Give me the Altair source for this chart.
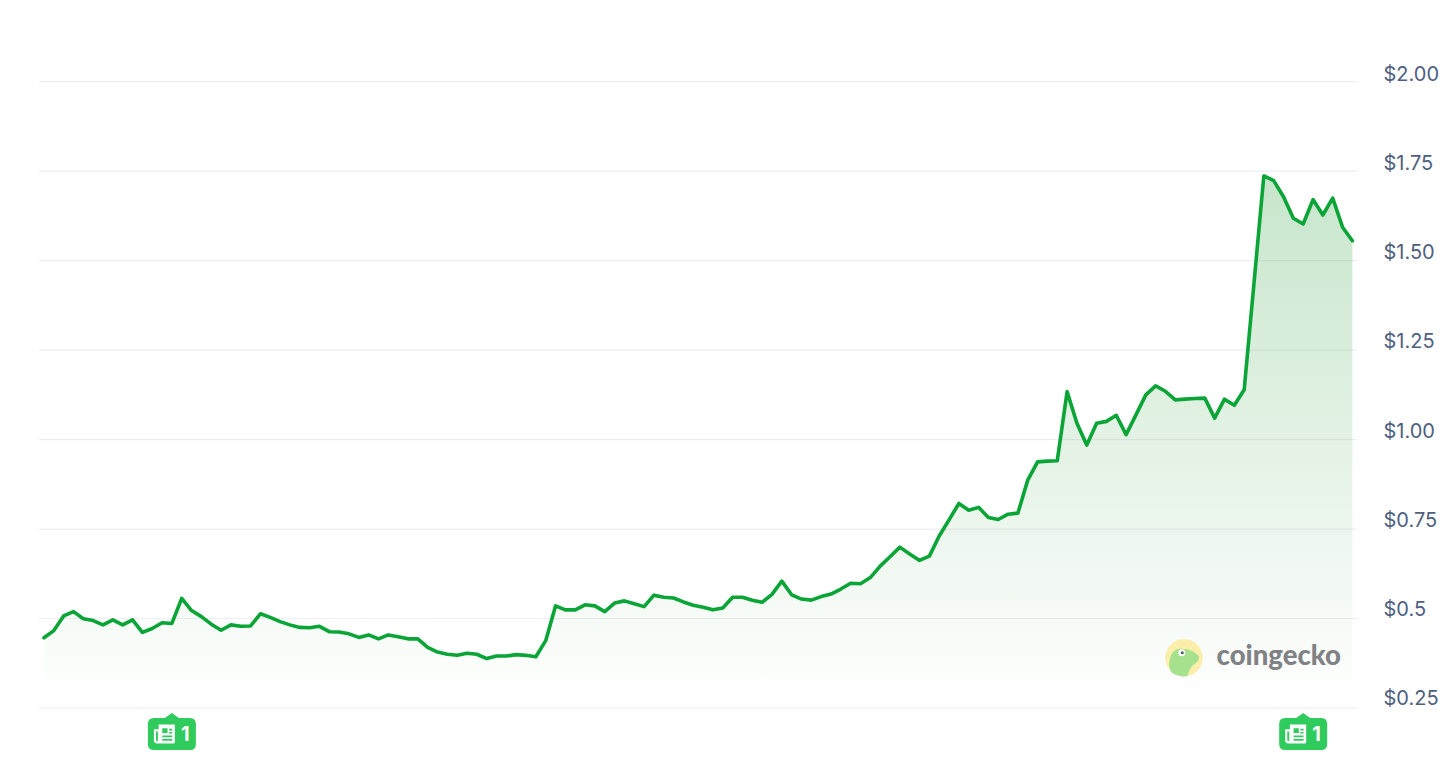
import altair as alt
import pandas as pd

prices = [
    0.446, 0.466, 0.507, 0.519, 0.499, 0.494, 0.482, 0.496, 0.482, 0.496,
    0.461, 0.472, 0.488, 0.486, 0.556, 0.522, 0.505, 0.484, 0.467, 0.482,
    0.478, 0.479, 0.513, 0.503, 0.491, 0.482, 0.475, 0.474, 0.478, 0.463,
    0.462, 0.457, 0.447, 0.454, 0.443, 0.454, 0.449, 0.443, 0.443, 0.419,
    0.406, 0.400, 0.397, 0.403, 0.400, 0.388, 0.395, 0.395, 0.399, 0.397,
    0.393, 0.438, 0.535, 0.524, 0.524, 0.538, 0.535, 0.519, 0.543, 0.549,
    0.541, 0.533, 0.565, 0.559, 0.557, 0.546, 0.537, 0.531, 0.524, 0.529,
    0.559, 0.559, 0.551, 0.545, 0.567, 0.604, 0.566, 0.554, 0.551, 0.561,
    0.568, 0.582, 0.598, 0.597, 0.614, 0.646, 0.672, 0.699, 0.680, 0.662,
    0.674, 0.730, 0.775, 0.821, 0.802, 0.810, 0.782, 0.776, 0.791, 0.794,
    0.886, 0.937, 0.939, 0.940, 1.133, 1.045, 0.984, 1.045, 1.050, 1.067,
    1.013, 1.068, 1.124, 1.149, 1.134, 1.110, 1.112, 1.114, 1.115, 1.059,
    1.112, 1.095, 1.138, 1.436, 1.735, 1.722, 1.677, 1.617, 1.601, 1.669,
    1.626, 1.673, 1.592, 1.554,
]
grid_values = [0.25, 0.5, 0.75, 1.0, 1.25, 1.5, 1.75, 2.0]
tick_labels = ["$0.25", "$0.5", "$0.75", "$1.00", "$1.25", "$1.50", "$1.75", "$2.00"]
news_index = [13, 128]
news_count = ["1", "1"]
base_price = 0.278

df = pd.DataFrame({"i": list(range(len(prices))), "price": prices, "base": base_price})
ticks = pd.DataFrame({"v": grid_values, "label": tick_labels})
news = pd.DataFrame({"i": news_index, "count": news_count})

GREEN = "#0BA537"
x_scale = alt.Scale(domain=[-0.508, 133.47], nice=False, zero=False)
y_scale = alt.Scale(domain=[0.25, 2.0], nice=False, zero=False)
X = alt.X("i:Q", scale=x_scale, axis=None)
Y = alt.Y("price:Q", scale=y_scale, axis=None)

grid = alt.Chart(ticks).mark_rule(color="#ECEEF2", strokeWidth=1.2).encode(
    y=alt.Y("v:Q", scale=alt.Scale(domain=[0.25, 2.0], range=[627, 0.6], nice=False, zero=False), axis=None),
    x=alt.value(0),
    x2=alt.value(1318),
)

fill = alt.Gradient(
    gradient="linear",
    stops=[
        alt.GradientStop(color="rgba(55,163,67,0.28)", offset=0),
        alt.GradientStop(color="rgba(55,163,67,0.005)", offset=1),
    ],
    x1=0, x2=0, y1=0, y2=1,
)
area = alt.Chart(df).mark_area(color=fill, interpolate="linear").encode(
    x=X, y=Y, y2=alt.Y2("base:Q"),
)
line = alt.Chart(df).mark_line(
    color=GREEN, strokeWidth=3.6, interpolate="linear", strokeJoin="round", strokeCap="round"
).encode(x=X, y=Y)

labels = alt.Chart(ticks).mark_text(
    align="left", baseline="alphabetic", font="Inter", fontSize=20, color="#4E5F80"
).encode(
    y=alt.Y("v:Q", scale=alt.Scale(domain=[0.25, 2.0], range=[624, 0], nice=False, zero=False), axis=None),
    x=alt.value(1344.5),
    text="label:N",
)

BADGE = ("M-0.75,-0.667L-0.29,-0.667L0,-0.875L0.29,-0.667L0.75,-0.667Q1,-0.667 1,-0.417"
         "L1,0.417Q1,0.667 0.75,0.667L-0.75,0.667Q-1,0.667 -1,0.417L-1,-0.417Q-1,-0.667 -0.75,-0.667Z")
ICON = ("M-0.55,-0.9L1,-0.9L1,0.75Q1,0.9 0.85,0.9L-0.7,0.9Q-1,0.9 -1,0.6L-1,-0.45L-0.55,-0.45Z"
        "M-0.8,-0.25L-0.8,0.55Q-0.8,0.7 -0.62,0.7L-0.62,-0.25Z"
        "M-0.2,-0.55L-0.2,-0.1L0.3,-0.1L0.3,-0.55Z"
        "M0.45,-0.5L0.45,-0.34L0.75,-0.34L0.75,-0.5Z"
        "M0.45,-0.2L0.45,-0.04L0.75,-0.04L0.75,-0.2Z"
        "M-0.2,0.14L-0.2,0.3L0.75,0.3L0.75,0.14Z"
        "M-0.2,0.48L-0.2,0.64L0.75,0.64L0.75,0.48Z")
badge_y = alt.value(653)
badge = alt.Chart(news).mark_point(
    shape=BADGE, size=2304, filled=True, opacity=1, color="#2FCB5C", strokeWidth=0
).encode(x=alt.X("i:Q", scale=x_scale, axis=None), y=badge_y)
icon = alt.Chart(news).mark_point(
    shape=ICON, size=441, filled=True, opacity=1, color="white", strokeWidth=0, xOffset=-7.5
).encode(x=alt.X("i:Q", scale=x_scale, axis=None), y=badge_y)
count = alt.Chart(news).mark_text(
    font="Inter", fontSize=20, fontWeight=700, color="white", align="left", baseline="middle", dx=9, dy=1
).encode(x=alt.X("i:Q", scale=x_scale, axis=None), y=badge_y, text="count:N")

# CoinGecko watermark
logo = pd.DataFrame({"i": [115.89], "price": [0.39], "txt_i": [119.2], "txt_p": [0.370], "name": ["coingecko"]})
HEAD = ("M-0.66,0.78C-0.8,0.6 -0.85,0.3 -0.71,-0.09C-0.62,-0.36 -0.4,-0.5 -0.13,-0.48"
        "C0.1,-0.48 0.25,-0.42 0.32,-0.41C0.5,-0.35 0.7,-0.2 0.8,-0.09L0.77,0.125"
        "C0.65,0.28 0.5,0.35 0.41,0.45C0.3,0.6 0.22,0.8 0.18,0.98C-0.05,1.0 -0.4,0.98 -0.66,0.78Z")
lx = alt.X("i:Q", scale=x_scale, axis=None)
sun = alt.Chart(logo).mark_circle(size=1400, color="#FBEEAA", opacity=1).encode(x=lx, y=Y)
head = alt.Chart(logo).mark_point(
    shape=HEAD, size=1400, filled=True, opacity=1, color="#A6E28D", strokeWidth=0
).encode(x=lx, y=Y)
eye = alt.Chart(logo).mark_circle(size=49, color="white", opacity=1, xOffset=-2.3, yOffset=-5).encode(x=lx, y=Y)
pupil = alt.Chart(logo).mark_circle(size=9, color="#555555", opacity=1, xOffset=-1.8, yOffset=-5).encode(x=lx, y=Y)
brand = alt.Chart(logo).mark_text(
    font="Lato", fontSize=27.5, fontWeight=900, color="#808285", align="left", baseline="alphabetic"
).encode(
    x=alt.X("txt_i:Q", scale=x_scale, axis=None),
    y=alt.Y("txt_p:Q", scale=y_scale, axis=None),
    text="name:N",
)

chart = alt.layer(
    grid, area, line, sun, head, eye, pupil, brand, labels, badge, icon, count
).resolve_scale(y="independent").properties(
    width=1318,
    height=627,
    background="white",
    padding={"left": 31, "top": 73, "right": 91, "bottom": 64},
    autosize=alt.AutoSizeParams(type="none"),
).configure_view(strokeOpacity=0, strokeWidth=0)

chart.save("out.html", embed_options={"renderer": "svg", "actions": False})
